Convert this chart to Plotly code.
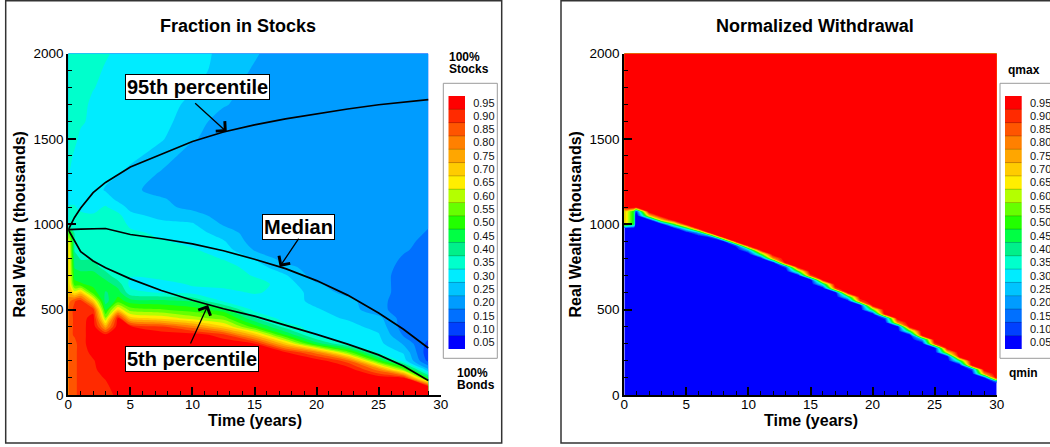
import numpy as np
import plotly.graph_objects as go

FONT = "Liberation Sans, Arial, sans-serif"
W_PX, H_PX = 1050, 447

# ---------------- colour levels (legend) ----------------
LEVELS = [0.05, 0.10, 0.15, 0.20, 0.25, 0.30, 0.35, 0.40, 0.45, 0.50,
          0.55, 0.60, 0.65, 0.70, 0.75, 0.80, 0.85, 0.90, 0.95]
LEVEL_COLORS = ["#0000ff", "#0040ff", "#0070ff", "#009cff", "#00c4ff",
                "#00ecff", "#00ffcc", "#00f08a", "#00ff44", "#22ff00",
                "#66ff00", "#b4ff00", "#ffee00", "#ffcc00", "#ffa600",
                "#ff8000", "#ff5500", "#ff2a00", "#ff0000"]

# ---------------- left panel: fraction in stocks ----------------
T_GRID = [0, 0.5, 1, 2, 3, 4, 5, 7.5, 10, 12.5, 15, 17.5, 20, 22.5, 25, 27, 29]
W_GRID = [0, 50, 100, 150, 200, 250, 300, 350, 400, 450,
          500, 550, 600, 650, 700, 750, 800, 850, 900, 950,
          1000, 1050, 1100, 1150, 1200,
          1300, 1400, 1500, 1600, 1700, 1800, 1900, 2000]

# one list per time in T_GRID, values at the wealth levels of W_GRID
FRAC_BY_TIME = [
    [0.86, 0.86, 0.86, 0.86, 0.86, 0.86, 0.86, 0.86, 0.86, 0.86,
     0.84, 0.80, 0.75, 0.72, 0.72, 0.72, 0.72, 0.72, 0.68, 0.55,
     0.36, 0.35, 0.33, 0.31, 0.30,
     0.33, 0.36, 0.36, 0.36, 0.36, 0.36, 0.36, 0.36],
    [0.86, 0.86, 0.86, 0.86, 0.86, 0.86, 0.86, 0.88, 0.88, 0.88,
     0.89, 0.87, 0.65, 0.50, 0.45, 0.42, 0.40, 0.37, 0.37, 0.37,
     0.36, 0.35, 0.33, 0.31, 0.30,
     0.30, 0.31, 0.35, 0.36, 0.36, 0.36, 0.36, 0.36],
    [0.90, 0.90, 0.90, 0.90, 0.90, 0.90, 0.90, 0.90, 0.90, 0.90,
     0.90, 0.90, 0.70, 0.48, 0.45, 0.40, 0.37, 0.36, 0.37, 0.37,
     0.36, 0.34, 0.31, 0.30, 0.30,
     0.30, 0.30, 0.30, 0.34, 0.36, 0.36, 0.36, 0.36],
    [0.90, 0.90, 0.90, 0.91, 0.92, 0.94, 0.96, 0.96, 0.96, 0.95,
     0.90, 0.70, 0.50, 0.46, 0.45, 0.40, 0.37, 0.37, 0.37, 0.36,
     0.35, 0.33, 0.31, 0.30, 0.30,
     0.30, 0.30, 0.30, 0.30, 0.30, 0.33, 0.36, 0.36],
    [0.90, 0.91, 0.93, 0.96, 0.96, 0.96, 0.96, 0.95, 0.75, 0.58,
     0.47, 0.40, 0.42, 0.45, 0.40, 0.35, 0.36, 0.37, 0.37, 0.36,
     0.36, 0.35, 0.33, 0.30, 0.27,
     0.29, 0.30, 0.30, 0.30, 0.30, 0.30, 0.31, 0.34],
    [0.94, 0.96, 0.96, 0.96, 0.96, 0.96, 0.96, 0.96, 0.96, 0.93,
     0.68, 0.50, 0.45, 0.40, 0.34, 0.36, 0.37, 0.37, 0.37, 0.36,
     0.36, 0.34, 0.30, 0.26, 0.25,
     0.28, 0.30, 0.30, 0.30, 0.30, 0.30, 0.30, 0.30],
    [0.96, 0.96, 0.96, 0.96, 0.96, 0.96, 0.96, 0.96, 0.93, 0.70,
     0.55, 0.45, 0.34, 0.31, 0.33, 0.36, 0.37, 0.37, 0.36, 0.34,
     0.31, 0.29, 0.26, 0.25, 0.24,
     0.26, 0.29, 0.30, 0.30, 0.30, 0.30, 0.30, 0.30],
    [0.96, 0.96, 0.96, 0.96, 0.96, 0.96, 0.96, 0.96, 0.88, 0.66,
     0.53, 0.44, 0.32, 0.31, 0.34, 0.36, 0.37, 0.36, 0.33, 0.31,
     0.29, 0.26, 0.24, 0.23, 0.20,
     0.22, 0.25, 0.28, 0.29, 0.30, 0.30, 0.30, 0.30],
    [0.96, 0.96, 0.96, 0.96, 0.96, 0.96, 0.96, 0.96, 0.80, 0.60,
     0.50, 0.42, 0.31, 0.33, 0.36, 0.37, 0.36, 0.33, 0.31, 0.30,
     0.28, 0.25, 0.21, 0.20, 0.20,
     0.20, 0.20, 0.23, 0.25, 0.26, 0.28, 0.30, 0.30],
    [0.96, 0.96, 0.96, 0.96, 0.96, 0.96, 0.96, 0.90, 0.68, 0.55,
     0.45, 0.32, 0.31, 0.34, 0.36, 0.35, 0.32, 0.30, 0.28, 0.25,
     0.22, 0.20, 0.20, 0.20, 0.20,
     0.20, 0.20, 0.20, 0.20, 0.23, 0.24, 0.25, 0.26],
    [0.96, 0.96, 0.96, 0.96, 0.96, 0.96, 0.93, 0.72, 0.50, 0.38,
     0.31, 0.30, 0.33, 0.35, 0.32, 0.30, 0.27, 0.22, 0.20, 0.20,
     0.20, 0.20, 0.20, 0.20, 0.20,
     0.20, 0.20, 0.20, 0.20, 0.20, 0.21, 0.22, 0.23],
    [0.96, 0.96, 0.96, 0.96, 0.96, 0.93, 0.70, 0.48, 0.35, 0.30,
     0.29, 0.30, 0.31, 0.30, 0.28, 0.24, 0.20, 0.20, 0.20, 0.20,
     0.20, 0.20, 0.20, 0.20, 0.20,
     0.20, 0.20, 0.20, 0.20, 0.20, 0.20, 0.20, 0.20],
    [0.96, 0.96, 0.96, 0.96, 0.96, 0.80, 0.45, 0.31, 0.30, 0.29,
     0.28, 0.26, 0.25, 0.23, 0.20, 0.20, 0.20, 0.20, 0.20, 0.20,
     0.20, 0.20, 0.20, 0.20, 0.20,
     0.20, 0.20, 0.20, 0.20, 0.20, 0.20, 0.20, 0.20],
    [0.96, 0.96, 0.96, 0.96, 0.85, 0.55, 0.32, 0.30, 0.29, 0.27,
     0.25, 0.24, 0.21, 0.20, 0.20, 0.20, 0.20, 0.20, 0.20, 0.20,
     0.20, 0.20, 0.20, 0.20, 0.20,
     0.20, 0.20, 0.20, 0.20, 0.20, 0.20, 0.20, 0.20],
    [0.96, 0.96, 0.96, 0.80, 0.50, 0.31, 0.29, 0.28, 0.26, 0.24,
     0.19, 0.19, 0.20, 0.20, 0.20, 0.20, 0.20, 0.20, 0.20, 0.20,
     0.20, 0.20, 0.20, 0.20, 0.20,
     0.20, 0.20, 0.20, 0.20, 0.20, 0.20, 0.20, 0.20],
    [0.96, 0.96, 0.93, 0.55, 0.30, 0.27, 0.22, 0.17, 0.15, 0.15,
     0.15, 0.15, 0.15, 0.15, 0.15, 0.16, 0.17, 0.18, 0.19, 0.20,
     0.20, 0.20, 0.20, 0.20, 0.20,
     0.20, 0.20, 0.20, 0.20, 0.20, 0.20, 0.20, 0.20],
    [0.96, 0.93, 0.45, 0.23, 0.11, 0.09, 0.11, 0.14, 0.15, 0.15,
     0.15, 0.15, 0.15, 0.15, 0.15, 0.15, 0.15, 0.16, 0.16, 0.17,
     0.18, 0.19, 0.20, 0.20, 0.20,
     0.20, 0.20, 0.20, 0.20, 0.20, 0.20, 0.20, 0.20],
]

# percentile paths of real wealth (thousands)
P95_T = [0, 0.5, 1, 2, 3, 5, 7.5, 10, 12.5, 15, 17.5, 20, 22.5, 25, 27, 29]
P95_W = [968, 1040, 1095, 1185, 1245, 1335, 1410, 1485, 1540, 1582, 1617,
         1647, 1675, 1700, 1716, 1730]
MED_T = [0, 1, 3, 5, 7.5, 10, 12.5, 15, 17.5, 20, 22.5, 25, 27, 29]
MED_W = [968, 972, 975, 940, 915, 885, 845, 795, 740, 670, 585, 480, 385, 275]
P05_T = [0, 1, 2, 3, 5, 7.5, 10, 12.5, 15, 17.5, 20, 22.5, 25, 27, 29]
P05_W = [968, 840, 785, 745, 680, 612, 555, 505, 462, 410, 355, 298, 235, 170, 85]

# ---------------- right panel: normalized withdrawal ----------------
# wealth level (thousands) below which withdrawal is qmin
WD_TIME = [0.9, 1, 2, 3, 4, 5, 6, 7, 8, 9, 10, 11, 12, 13, 14, 15, 16, 17, 18,
           19, 20, 21, 22, 23, 24, 25, 26, 27, 28, 29, 30]
WD_BOUNDARY = [1085, 1085, 1045, 1020, 1000, 978, 957, 935, 911, 885, 856, 825,
               793, 760, 725, 690, 653, 615, 578, 541, 500, 460, 418, 375, 332,
               290, 246, 202, 160, 118, 85]
# short intermediate strip right at the start
WD_STRIP_TIME = [0, 0.8]
WD_STRIP_Q = [0.72, 0.45]
WD_STRIP_LOW, WD_STRIP_HIGH = 1000, 1085
WD_QMIN, WD_QMAX = 0.0, 1.0
WD_EDGE = 25          # width (thousands) of the qmin->qmax transition
WD_ROWS = list(range(0, 2001, 25))

wd_x = WD_STRIP_TIME + WD_TIME
wd_z = []
for w in WD_ROWS:
    row = []
    for q in WD_STRIP_Q:
        if w < WD_STRIP_LOW:
            row.append(WD_QMIN)
        elif w < WD_STRIP_HIGH:
            row.append(q)
        else:
            row.append(WD_QMAX)
    for b in WD_BOUNDARY:
        frac = min(max(0.5 + (w - b) / WD_EDGE, 0.0), 1.0)
        row.append(WD_QMIN + frac * (WD_QMAX - WD_QMIN))
    wd_z.append(row)

# ---------------- figure ----------------
def px(x):
    return x / W_PX


def py(y):
    return 1 - y / H_PX


colorscale = [[k / (len(LEVEL_COLORS) - 1), c] for k, c in enumerate(LEVEL_COLORS)]
step = LEVELS[1] - LEVELS[0]
contours = dict(start=LEVELS[0] + step / 2, end=LEVELS[-1] - step / 2, size=step,
                coloring="fill", showlines=False)

frac_z = np.array(FRAC_BY_TIME).T  # rows = wealth, cols = time

fig = go.Figure()
fig.add_trace(go.Contour(x=T_GRID, y=W_GRID, z=frac_z, autocontour=False,
                         contours=contours, colorscale=colorscale, showscale=False,
                         line=dict(width=0, smoothing=0.8), hoverinfo="skip",
                         xaxis="x", yaxis="y"))
for tt, ww in [(P95_T, P95_W), (MED_T, MED_W), (P05_T, P05_W)]:
    fig.add_trace(go.Scatter(x=tt, y=ww, mode="lines",
                             line=dict(color="black", width=1.7),
                             hoverinfo="skip", showlegend=False,
                             xaxis="x", yaxis="y"))

fig.add_trace(go.Contour(x=wd_x, y=WD_ROWS, z=wd_z, autocontour=False,
                         contours=contours, colorscale=colorscale, showscale=False,
                         line=dict(width=0, smoothing=0), hoverinfo="skip",
                         xaxis="x2", yaxis="y2"))

# legend bars
legend_z = [[v] for v in LEVELS]
for xa, ya in [("x3", "y3"), ("x4", "y4")]:
    fig.add_trace(go.Heatmap(x=[0], y=LEVELS, z=legend_z, colorscale=colorscale,
                             zmin=LEVELS[0], zmax=LEVELS[-1], showscale=False,
                             hoverinfo="skip", xaxis=xa, yaxis=ya))

Y_DOM = [py(395), py(53.5)]
main_ax = dict(showline=True, linecolor="black", linewidth=2, ticks="inside",
               ticklen=8, tickwidth=1.5, tickcolor="black", showgrid=False,
               zeroline=False, mirror=False, automargin=False,
               tickfont=dict(family=FONT, size=13.5, color="black"))
title_font = dict(family=FONT, size=16, color="black", weight="bold")


def xax(domain, anchor):
    return dict(main_ax, domain=domain, anchor=anchor, range=[0, 30], dtick=5,
                tick0=0, ticklabelstandoff=-4,
                minor=dict(ticks="inside", ticklen=4, tickwidth=1,
                           tickcolor="black", dtick=1))


def yax(anchor):
    return dict(main_ax, domain=Y_DOM, anchor=anchor, range=[0, 2000], dtick=500,
                tick0=0, minor=dict(ticks="inside", ticklen=4, tickwidth=1,
                                    tickcolor="black", dtick=100))


CB_Y = [py(349), py(96)]
cb_y = dict(domain=CB_Y, range=[LEVELS[0] - step / 2, LEVELS[-1] + step / 2],
            side="right", tickvals=LEVELS, ticktext=[f"{v:.2f}" for v in LEVELS],
            ticks="outside", ticklen=5, tickcolor="rgba(0,0,0,0)", showline=False,
            showgrid=False, zeroline=False, automargin=False,
            tickfont=dict(family=FONT, size=11, color="#111"))
cb_x = dict(range=[-0.5, 0.5], visible=False, automargin=False)

fig.update_layout(
    width=W_PX, height=H_PX, autosize=False,
    margin=dict(l=0, r=0, t=0, b=0, autoexpand=False),
    paper_bgcolor="white", plot_bgcolor="white", showlegend=False,
    xaxis=xax([px(68.3), px(440.7)], "y"),
    yaxis=yax("x"),
    xaxis2=xax([px(624.3), px(996.7)], "y2"),
    yaxis2=yax("x2"),
    xaxis3=dict(cb_x, domain=[px(448.3), px(465)], anchor="y3"),
    yaxis3=dict(cb_y, anchor="x3"),
    xaxis4=dict(cb_x, domain=[px(1005), px(1021.7)], anchor="y4"),
    yaxis4=dict(cb_y, anchor="x4"),
)

shapes = []
# panel frames
shapes.append(dict(type="rect", xref="paper", yref="paper", x0=px(5.7), x1=px(501.7),
                   y0=py(443), y1=py(0.8), line=dict(color="#333", width=1.5)))
shapes.append(dict(type="rect", xref="paper", yref="paper", x0=px(561), x1=px(1060),
                   y0=py(443), y1=py(0.8), line=dict(color="#333", width=1.5)))
# legend frames
shapes.append(dict(type="rect", xref="paper", yref="paper", x0=px(443.3), x1=px(497.3),
                   y0=py(358.3), y1=py(83.3), line=dict(color="#9a9a9a", width=1)))
shapes.append(dict(type="rect", xref="paper", yref="paper", x0=px(1000), x1=px(1060),
                   y0=py(358.3), y1=py(83.3), line=dict(color="#9a9a9a", width=1)))
# legend band separators
for xa, ya in [("x3", "y3"), ("x4", "y4")]:
    for v in LEVELS[:-1]:
        shapes.append(dict(type="line", xref=xa, yref=ya, x0=-0.5, x1=0.5,
                           y0=v + step / 2, y1=v + step / 2,
                           line=dict(color="rgba(0,0,0,0.22)", width=1)))
fig.update_layout(shapes=shapes)

ann = []
ttl = dict(family=FONT, size=18, color="black", weight="bold")
for text, x in [("Fraction in Stocks", 238), ("Normalized Withdrawal", 815)]:
    ann.append(dict(text=text, x=px(x), y=py(26), xref="paper", yref="paper",
                    xanchor="center", yanchor="middle", showarrow=False, font=ttl))
# axis titles
for cx in [254.5, 810.5]:
    ann.append(dict(text="Time (years)", x=px(cx), y=py(420.5), xref="paper",
                    yref="paper", xanchor="center", yanchor="middle",
                    showarrow=False, font=title_font, borderpad=0))
for cx in [18.5, 574.5]:
    ann.append(dict(text="Real Wealth (thousands)", x=px(cx), y=py(225),
                    xref="paper", yref="paper", xanchor="center", yanchor="middle",
                    textangle=-90, showarrow=False, font=title_font))

lab = dict(family=FONT, size=20, color="black", weight="bold")
for text, x, y in [("95th percentile", 10.43, 1806), ("Median", 18.56, 986),
                   ("5th percentile", 10.0, 211)]:
    ann.append(dict(text=text, x=x, y=y, xref="x", yref="y", showarrow=False,
                    xanchor="center", yanchor="middle",
                    font=lab, bgcolor="white", bordercolor="black", borderwidth=1,
                    borderpad=1))
for (x, y, ax, ay) in [(12.77, 1540, 10.1, 1716), (17.03, 750, 18.64, 925),
                       (11.26, 527, 9.79, 293)]:
    ann.append(dict(text="", x=x, y=y, ax=ax, ay=ay, xref="x", yref="y",
                    axref="x", ayref="y", showarrow=True, arrowhead=4,
                    arrowsize=2, arrowwidth=1.3, arrowcolor="black"))

small_b = dict(family=FONT, size=12, color="black", weight="bold")
for text, x, y in [("100%", 447.7, 57), ("Stocks", 447.7, 69),
                   ("100%", 455.7, 373), ("Bonds", 455.7, 385),
                   ("qmax", 1006.7, 70.5), ("qmin", 1008, 373)]:
    ann.append(dict(text=text, x=px(x), y=py(y), xref="paper", yref="paper",
                    xanchor="left", yanchor="middle", showarrow=False, font=small_b,
                    borderpad=0))
fig.update_layout(annotations=ann)

fig.write_html("out.html", config={"displayModeBar": False},
               post_script="document.body.style.margin='0px';"
                           "document.body.style.overflow='hidden';")
